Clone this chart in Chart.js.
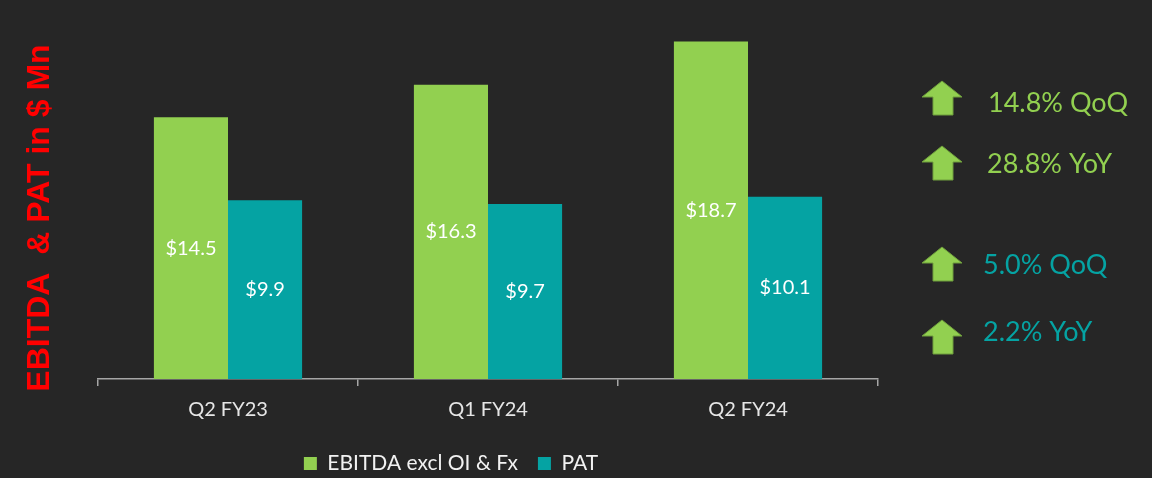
<!DOCTYPE html>
<html>
<head>
<meta charset="utf-8">
<title>EBITDA & PAT</title>
<script src="https://cdn.jsdelivr.net/npm/chart.js@4.4.0/dist/chart.umd.min.js"></script>
<style>
  html, body { margin: 0; padding: 0; background: #262626; }
  #wrap { position: relative; width: 1152px; height: 478px; }
</style>
</head>
<body>
<div id="wrap"><canvas id="chart"></canvas></div>
<script>
const quarters = ['Q2 FY23', 'Q1 FY24', 'Q2 FY24'];
const ebitda = [14.5, 16.3, 18.7];
const pat = [9.9, 9.7, 10.1];
const seriesNames = ['EBITDA excl OI & Fx', 'PAT'];
const growthText = ['14.8% QoQ', '28.8% YoY', '5.0% QoQ', '2.2% YoY'];
const growthSeries = [0, 0, 1, 1];
const yAxisTitle = 'EBITDA  & PAT in $ Mn';

const GREEN = '#92D050';
const TEAL = '#05A3A3';
const seriesColors = [GREEN, TEAL];
const FONT = 'Lato';

// bar value labels, centred in each bar
const barLabels = {
  id: 'barLabels',
  afterDatasetsDraw(chart) {
    const { ctx } = chart;
    ctx.save();
    ctx.font = `20px ${FONT}`;
    ctx.fillStyle = '#ffffff';
    ctx.textAlign = 'center';
    ctx.textBaseline = 'middle';
    chart.data.datasets.forEach((ds, i) => {
      chart.getDatasetMeta(i).data.forEach((bar, j) => {
        ctx.fillText('$' + ds.data[j].toFixed(1), bar.x, (bar.y + bar.base) / 2);
      });
    });
    ctx.restore();
  },
};

// y title on the left and the growth call-outs on the right
const sideText = {
  id: 'sideText',
  afterDraw(chart) {
    const { ctx, chartArea } = chart;
    ctx.save();
    ctx.translate(49, 218);
    ctx.rotate(-Math.PI / 2);
    ctx.font = `bold 32px "Liberation Sans"`;
    ctx.fillStyle = '#ff0000';
    ctx.textAlign = 'center';
    ctx.textBaseline = 'alphabetic';
    ctx.fillText(yAxisTitle, 0, 0);
    ctx.restore();

    const arrowTop = [81, 146, 247, 320];
    const textX = [988, 987, 983, 983];
    const textY = [103, 164, 265, 332];
    const ax = chartArea.right + 44;
    ctx.save();
    growthText.forEach((t, i) => {
      const top = arrowTop[i];
      ctx.beginPath();
      ctx.moveTo(ax, top + 16);
      ctx.lineTo(ax + 20, top);
      ctx.lineTo(ax + 40, top + 16);
      ctx.lineTo(ax + 31, top + 16);
      ctx.lineTo(ax + 31, top + 34);
      ctx.lineTo(ax + 11, top + 34);
      ctx.lineTo(ax + 11, top + 16);
      ctx.closePath();
      ctx.fillStyle = GREEN;
      ctx.fill();
      ctx.strokeStyle = '#6f9e3c';
      ctx.lineWidth = 1;
      ctx.stroke();

      ctx.font = `27px ${FONT}`;
      ctx.fillStyle = seriesColors[growthSeries[i]];
      ctx.textAlign = 'left';
      ctx.textBaseline = 'middle';
      ctx.fillText(t, textX[i], textY[i]);
    });
    ctx.restore();
  },
};

new Chart(document.getElementById('chart'), {
  type: 'bar',
  data: {
    labels: quarters,
    datasets: [
      { label: seriesNames[0], data: ebitda, backgroundColor: GREEN },
      { label: seriesNames[1], data: pat, backgroundColor: TEAL },
    ],
  },
  options: {
    responsive: true,
    maintainAspectRatio: false,
    animation: false,
    categoryPercentage: 0.57,
    barPercentage: 1.0,
    borderWidth: 0,
    layout: { padding: { left: 24, right: 274, top: 18, bottom: -6 } },
    plugins: {
      tooltip: { enabled: false },
      legend: {
        position: 'bottom',
        labels: {
          boxWidth: 13,
          boxHeight: 13,
          padding: 20,
          color: '#f2f2f2',
          font: { family: FONT, size: 21 },
        },
      },
    },
    scales: {
      x: {
        grid: {
          display: true,
          drawOnChartArea: false,
          drawTicks: true,
          tickLength: 7,
          color: '#a6a6a6',
          lineWidth: 1.5,
          offset: true,
        },
        border: { display: true, color: '#a6a6a6', width: 1.5 },
        ticks: { color: '#e6e6e6', padding: 12, font: { family: FONT, size: 20 } },
        afterFit: (s) => { s.height = 54; },
      },
      y: {
        min: 0,
        max: 20,
        ticks: { display: false },
        grid: { display: false },
        border: { display: false },
        afterFit: (s) => { s.width = 74; },
      },
    },
  },
  plugins: [barLabels, sideText],
});
</script>
</body>
</html>
